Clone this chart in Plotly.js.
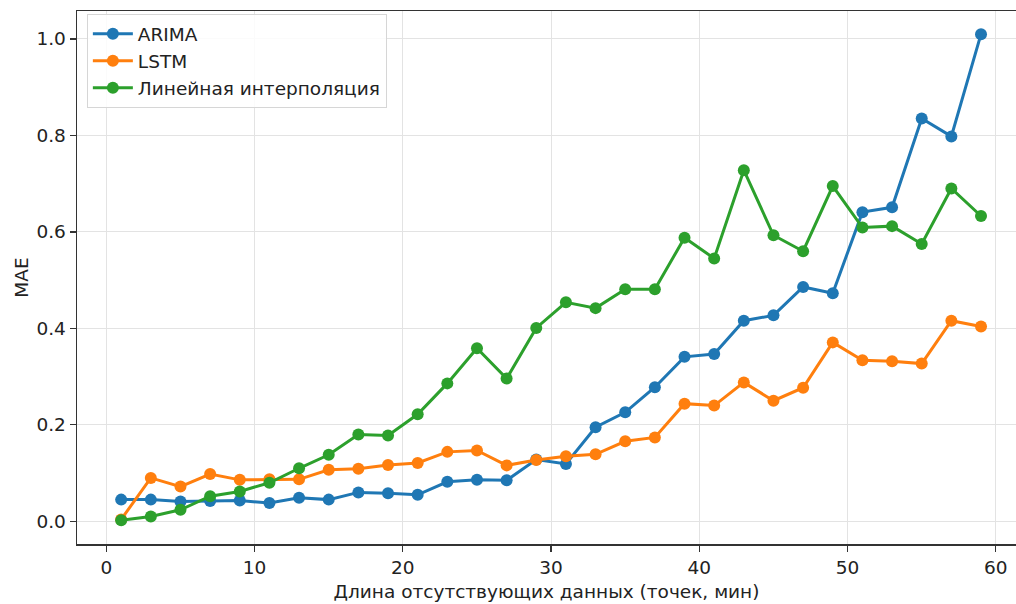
<!DOCTYPE html>
<html>
<head>
<meta charset="utf-8">
<script src="https://cdn.plot.ly/plotly-3.0.1.min.js"></script>
<style>html,body{margin:0;padding:0;background:#fff;}#chart{width:1016px;height:604px;}</style>
</head>
<body>
<div id="chart"></div>
<script>
const gapLength = [1,3,5,7,9,11,13,15,17,19,21,23,25,27,29,31,33,35,37,39,41,43,45,47,49,51,53,55,57,59];
const arimaMAE = [0.045,0.045,0.041,0.042,0.043,0.038,0.049,0.045,0.060,0.058,0.055,0.082,0.086,0.085,0.128,0.119,0.195,0.226,0.278,0.341,0.347,0.416,0.427,0.486,0.473,0.641,0.651,0.835,0.798,1.010];
const lstmMAE = [0.004,0.090,0.072,0.098,0.086,0.087,0.087,0.107,0.109,0.117,0.121,0.144,0.147,0.116,0.127,0.135,0.139,0.166,0.174,0.244,0.240,0.288,0.250,0.277,0.371,0.334,0.332,0.327,0.416,0.404];
const linearMAE = [0.002,0.010,0.024,0.052,0.062,0.080,0.110,0.138,0.180,0.178,0.222,0.286,0.359,0.296,0.401,0.454,0.442,0.481,0.481,0.588,0.545,0.728,0.593,0.560,0.695,0.609,0.612,0.575,0.690,0.633];
const seriesNames = ["ARIMA","LSTM","Линейная интерполяция"];
const seriesColors = ["#1f77b4","#ff7f0e","#2ca02c"];
const xTitle = "Длина отсутствующих данных (точек, мин)";
const yTitle = "MAE";

const values = [arimaMAE, lstmMAE, linearMAE];
const traces = values.map((v,i)=>({
  x: gapLength, y: v, name: seriesNames[i], type: 'scatter', mode: 'lines+markers',
  line: {color: seriesColors[i], width: 3},
  marker: {color: seriesColors[i], size: 12}
}));

const font = {family: 'DejaVu Sans, sans-serif', size: 18.5, color: '#222'};
const layout = {
  width: 1016, height: 604,
  margin: {l: 77, r: 0, t: 11, b: 60},
  paper_bgcolor: '#fff', plot_bgcolor: '#fff',
  font: font,
  showlegend: true,
  legend: {x: 0.0105, y: 0.994, xanchor: 'left', yanchor: 'top', bgcolor: 'rgba(255,255,255,0.85)',
           bordercolor: '#d6d6d6', borderwidth: 1, font: {family: 'DejaVu Sans, sans-serif', size: 18.5, color: '#222'},
           tracegroupgap: 0, itemwidth: 40},
  xaxis: {
    range: [-1.98, 61.36], tickvals: [0,10,20,30,40,50,60],
    showgrid: true, gridcolor: '#e3e3e3', gridwidth: 1, zeroline: false,
    showline: true, linecolor: '#333', linewidth: 1.5, mirror: true,
    ticks: 'outside', ticklen: 6, tickcolor: '#333', tickwidth: 1.2,
    tickfont: font,
    title: {text: xTitle, font: font, standoff: 8}
  },
  yaxis: {
    range: [-0.047, 1.058], tickvals: [0,0.2,0.4,0.6,0.8,1.0], ticktext: ['0.0','0.2','0.4','0.6','0.8','1.0'],
    showgrid: true, gridcolor: '#e3e3e3', gridwidth: 1, zeroline: false,
    showline: true, linecolor: '#333', linewidth: 1.5, mirror: false,
    ticks: 'outside', ticklen: 6, tickcolor: '#333', tickwidth: 1.2,
    tickfont: font,
    title: {text: yTitle, font: font, standoff: 3}
  }
};
Plotly.newPlot('chart', traces, layout, {displayModeBar: false, staticPlot: true});
</script>
</body>
</html>
